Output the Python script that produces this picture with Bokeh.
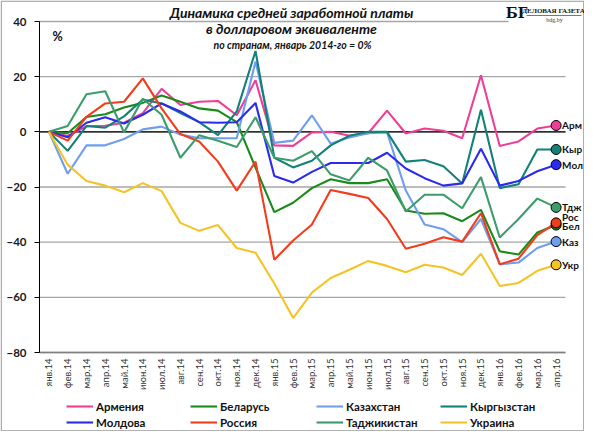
from bokeh.plotting import figure
from bokeh.models import Range1d, FixedTicker, Label, Legend, LegendItem
from bokeh.embed import file_html
from bokeh.resources import INLINE
from math import pi

months = ["янв.14", "фев.14", "мар.14", "апр.14", "май.14", "июн.14", "июл.14", "авг.14",
          "сен.14", "окт.14", "ноя.14", "дек.14", "янв.15", "фев.15", "мар.15", "апр.15",
          "май.15", "июн.15", "июл.15", "авг.15", "сен.15", "окт.15", "ноя.15", "дек.15",
          "янв.16", "фев.16", "мар.16", "апр.16"]

armenia = [0, -1.5, 2, 2.2, 3.3, 6.8, 15.6, 9.7, 10.9, 11.2, 6, 18.7, -4.9, -5.1, -0.2, 0,
           -1.4, -0.5, 7.7, -0.6, 1.2, 0.4, -2.3, 20.5, -5.1, -3.5, 1.2, 2.3]
belarus = [0, -0.5, 5.4, 6.4, 8.8, 10.5, 13.2, 10.9, 8.5, 7.7, 3.5, -13, -29.1, -25.7, -20.4,
           -17.2, -18.6, -18.6, -17.2, -28.5, -29.7, -29.5, -32.4, -28.3, -43.3, -44.5, -36.5, -33.8]
kazakhstan = [0, -15.2, -4.9, -4.9, -2.6, 0.9, 1.9, -1, -2.3, -2.3, -2.3, 25.5, -4, -3.2, 6,
              -4.3, -2, -0.5, -0.2, -21.3, -33.6, -35.3, -40, -31.6, -48, -47.4, -42.1, -39.8]
kyrgyzstan = [0, -6.9, 2.1, 1.5, 5.6, 11.7, 10.3, 6.8, 3.5, -1.2, 7.4, 29.3, -9.4, -12.9, -10.5,
              -4.9, -1.4, 0, 0, -10.8, -10.2, -12.5, -18.7, 8, -20.4, -19, -6.4, -6.4]
moldova = [0, -2, 3.3, 5.3, 3, 6.2, 10.3, 7.4, 3.5, 3.3, 3.5, 10.5, -16, -18.4, -14.5, -11.3,
           -11.3, -11.3, -7.6, -13.3, -16.8, -19.5, -18.7, -6.1, -19.5, -17.8, -14.3, -11.9]
russia = [0, -3.2, 5.4, 10.3, 10.9, 19.4, 8.5, -0.8, -3.5, -10.8, -21.3, -10.8, -46.4, -39.4,
          -33.6, -21.1, -22.5, -24, -31.6, -42.4, -40.6, -38.2, -39.8, -29.5, -48, -46, -37.4, -33]
tajikistan = [0, 2.1, 13.6, 14.7, -0.2, 12, 6.2, -9.4, -1.2, -3.2, -5.5, 5.3, -9.4, -10.5, -7,
              -15.4, -17.6, -9.4, -14, -28.9, -22.8, -22.8, -27.7, -16.4, -38.3, -31.6, -24.2, -27.4]
ukraine = [0, -11.9, -17.8, -19.5, -21.9, -18.6, -21.5, -33, -35.9, -33.8, -42.1, -43.8, -55,
           -67.5, -58.3, -53, -50, -46.8, -48.6, -50.9, -48.2, -49.2, -51.9, -44.2, -55.9, -54.8,
           -50.4, -48.2]

names = ["Армения", "Беларусь", "Казахстан", "Кыргызстан", "Молдова", "Россия", "Таджикистан", "Украина"]
short = ["Арм", "Бел", "Каз", "Кыр", "Мол", "Рос", "Тдж", "Укр"]
series = [armenia, belarus, kazakhstan, kyrgyzstan, moldova, russia, tajikistan, ukraine]
colors = ["#EE3E96", "#1A8A1A", "#6E9EEE", "#13807A", "#2B2BEE", "#F23C1C", "#3C9C6C", "#F6C326"]
y_ticks = [-80, -60, -40, -20, 0, 20, 40]

FONT = "Lato"
W, H = 584, 431
X0, X1 = -0.5, 27.5      # category band edges of the plot area
Y0, Y1 = -80, 40

# layout: the plot area (X0..X1, Y0..Y1) sits at these canvas pixels
FL, FR, FT, FB = 39, 565, 21, 352
PXU = (FR - FL) / (X1 - X0)
PYU = (FB - FT) / (Y1 - Y0)
XS, XE = X0 - FL / PXU, X1 + (W - FR) / PXU
YE, YS = Y1 + FT / PYU, Y0 - (H - FB) / PYU


def ux(px):
    """canvas x pixel -> x data coordinate (for layout of annotations)"""
    return X0 + (px - FL) / PXU


def vy(py):
    """canvas y pixel (from top) -> y data coordinate"""
    return Y1 - (py - FT) / PYU


p = figure(width=W, height=H, output_backend="svg", toolbar_location=None,
           x_range=Range1d(XS, XE), y_range=Range1d(YS, YE),
           min_border_left=0, min_border_right=0, min_border_top=0, min_border_bottom=0)
p.outline_line_color = None
p.background_fill_color = "white"
p.border_fill_color = "white"
p.xgrid.visible = False
p.ygrid.visible = False

# axes fixed at the plot-area edges
p.yaxis.fixed_location = X0
p.yaxis.bounds = (Y0, Y1)
p.yaxis.ticker = FixedTicker(ticks=y_ticks)
p.yaxis.minor_tick_line_color = None
p.yaxis.major_tick_out = 5
p.yaxis.major_tick_in = 0
p.yaxis.axis_line_color = "black"
p.yaxis.major_tick_line_color = "black"
p.yaxis.major_label_text_font = FONT
p.yaxis.major_label_text_font_style = "bold"
p.yaxis.major_label_text_font_size = "11.5px"
p.yaxis.major_label_text_color = "#1a1a1a"
p.yaxis.major_label_standoff = 8

x_idx = list(range(len(months)))
p.xaxis.fixed_location = Y0
p.xaxis.bounds = (X0, X1)
p.xaxis.ticker = FixedTicker(ticks=x_idx)
p.xaxis.major_label_overrides = {i: m for i, m in zip(x_idx, months)}
p.xaxis.major_label_orientation = pi / 2
p.xaxis.major_tick_out = 0
p.xaxis.major_tick_in = 0
p.xaxis.minor_tick_line_color = None
p.xaxis.axis_line_color = "#808080"
p.xaxis.axis_line_width = 1.3
p.xaxis.major_label_text_font = FONT
p.xaxis.major_label_text_font_size = "9.5px"
p.xaxis.major_label_text_color = "#333333"
p.xaxis.major_label_standoff = 6

# horizontal grid lines (the top one stops at the logo)
grid_end = [X1 if t < Y1 else ux(508) for t in y_ticks]
p.segment(x0=[X0] * len(y_ticks), x1=grid_end, y0=y_ticks, y1=y_ticks,
          line_color="#A6A6A6", line_width=1.3)
p.segment(x0=[X0], x1=[X1], y0=[0], y1=[0], line_color="black", line_width=1.3)

# outer frame of the picture
bl, br, bt, bb = ux(0.7), ux(583.3), vy(0.7), vy(430.3)
p.segment(x0=[bl, br, bl, bl], x1=[br, br, br, bl], y0=[bt, bt, bb, bt], y1=[bt, bb, bb, bb],
          line_color="#9A9A9A", line_width=1.2)

renderers = {}
for nm, ys, c in zip(names, series, colors):
    renderers[nm] = p.line(x_idx, ys, line_color=c, line_width=2.1)

for sh, ys, c in zip(short, series, colors):
    p.scatter([x_idx[-1]], [ys[-1]], size=10, fill_color=c, line_color="black", line_width=1)

for sh, ys in zip(short, series):
    off = 0
    if sh == "Рос":
        off = 6
    elif sh == "Бел":
        off = -1
    p.add_layout(Label(x=x_idx[-1], y=ys[-1], text=sh, x_offset=6, y_offset=off,
                       text_baseline="middle", text_font=FONT, text_font_style="bold",
                       text_font_size="10px", text_color="#111111"))

# legend: 4 columns x 2 rows, filled row by row
legend_cols = [66, 190, 316, 440]
for k, lx in enumerate(legend_cols):
    pair = [names[k], names[k + 4]]
    lg = Legend(items=[LegendItem(label=n, renderers=[renderers[n]]) for n in pair],
                location=(lx, 1.0), margin=0, padding=0,
                spacing=0, glyph_width=27, glyph_height=16, label_height=16,
                label_standoff=3, label_text_font=FONT, label_text_font_style="bold",
                label_text_font_size="11.5px", label_text_color="#111111",
                border_line_color=None, background_fill_alpha=0)
    p.add_layout(lg)


def txt(px, py, s, size, style="bold italic", font=FONT, color="#111111", align="center"):
    p.add_layout(Label(x=ux(px), y=vy(py), text=s, text_align=align, text_baseline="middle",
                       text_font=font, text_font_style=style, text_font_size=size,
                       text_color=color))


# titles
txt(291, 12, "Динамика средней заработной платы", "14px")
txt(291, 28, "в долларовом эквиваленте", "14px")
txt(292, 44, "по странам, январь 2014-го = 0%", "10.5px")
txt(57, 36, "%", "12.5px", style="bold")

# logo
txt(516, 12, "БГ", "14px", style="bold", font="DejaVu Serif")
txt(553, 10.5, "ДЕЛОВАЯ ГАЗЕТА", "7px", style="bold", font="Liberation Serif")
p.segment(x0=[ux(526)], x1=[ux(581)], y0=[vy(15)], y1=[vy(15)],
          line_color="#555555", line_width=0.8)
txt(554, 19.5, "bdg.by", "6px", style="normal", font="Liberation Serif", color="#333333")

open("out.html", "w").write(file_html(p, INLINE))
